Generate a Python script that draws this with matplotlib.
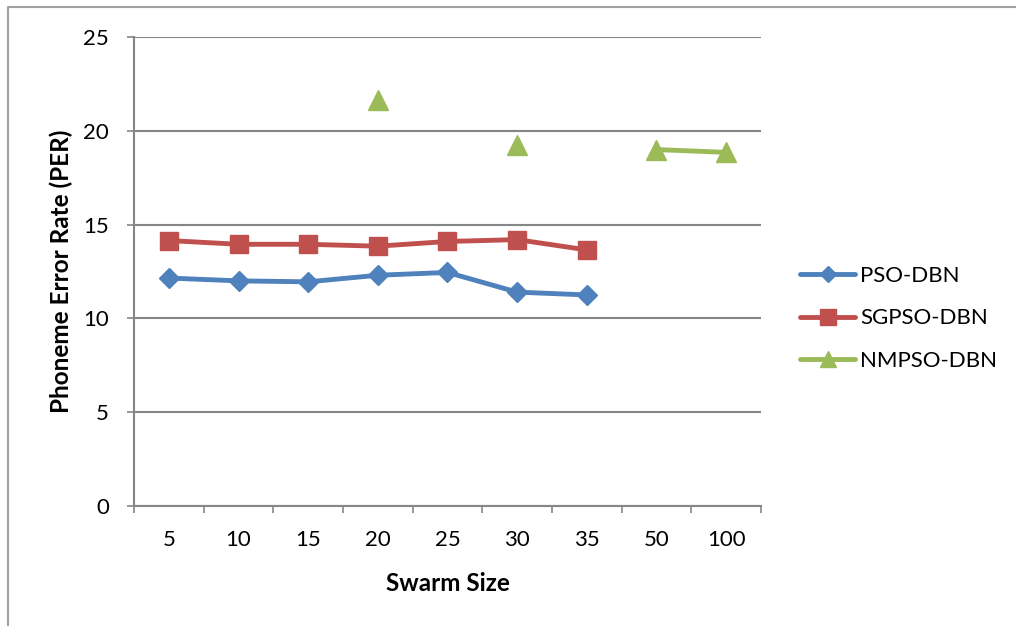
import numpy as np
import matplotlib
matplotlib.use("Agg")
import matplotlib.pyplot as plt
from matplotlib.lines import Line2D

plt.rcParams['font.family'] = ['Lato', 'DejaVu Sans']

swarm_sizes = ["5", "10", "15", "20", "25", "30", "35", "50", "100"]
pso_dbn = [12.15, 12.0, 11.95, 12.3, 12.45, 11.4, 11.25, np.nan, np.nan]
sgpso_dbn = [14.15, 13.95, 13.95, 13.85, 14.1, 14.2, 13.65, np.nan, np.nan]
nmpso_dbn = [np.nan, np.nan, np.nan, 21.65, np.nan, 19.25, np.nan, 19.0, 18.85]

grid_col = "#868686"

fig = plt.figure(figsize=(10.16, 6.26), dpi=100)
ax = fig.add_axes([0.1319, 0.1917, 0.749 - 0.1319, 0.9409 - 0.1917])

x = np.arange(len(swarm_sizes)) + 0.5
ax.plot(x, pso_dbn, color="#4F81BD", lw=3.5, marker="D", ms=10,
        label="PSO-DBN", solid_capstyle="round")
ax.plot(x, sgpso_dbn, color="#C0504D", lw=3.5, marker="s", ms=13,
        label="SGPSO-DBN", solid_capstyle="round")
ax.plot(x, nmpso_dbn, color="#9BBB59", lw=3.5, marker="^", ms=14,
        label="NMPSO-DBN", solid_capstyle="round")

ax.set_xlim(0, len(swarm_sizes))
ax.set_ylim(0, 25)
ax.set_yticks(np.arange(0, 26, 5))
ax.yaxis.grid(True, color=grid_col, lw=1.5)
ax.set_axisbelow(True)

# category boundaries get tick marks, centres get the labels
ax.set_xticks(np.arange(len(swarm_sizes) + 1))
ax.set_xticklabels([])
ax.set_xticks(x, minor=True)
ax.set_xticklabels(swarm_sizes, minor=True)
ax.tick_params(axis="x", which="major", length=5, width=1.2, color=grid_col, direction="out")
ax.tick_params(axis="x", which="minor", length=0, pad=17, labelsize=16)
ax.tick_params(axis="y", length=5, width=1.2, color=grid_col, direction="out",
               pad=13, labelsize=16)

for side in ("top", "right"):
    ax.spines[side].set_visible(False)
for side in ("left", "bottom"):
    ax.spines[side].set_color(grid_col)
    ax.spines[side].set_linewidth(1.5)

ax.set_xlabel("Swarm Size", fontsize=17.5, fontweight="bold", labelpad=16)
ax.set_ylabel("Phoneme Error Rate (PER)", fontsize=17.5, fontweight="bold", labelpad=7)

ax.legend(loc="center left", bbox_to_anchor=(1.062, 0.40), frameon=False,
          fontsize=16, handlelength=2.5, labelspacing=1.0, markerscale=0.85,
          handletextpad=0.22, borderpad=0, borderaxespad=0)

# outer chart frame (left and top edges)
fig.add_artist(Line2D([0.008, 0.008, 1.0], [0.0, 0.989, 0.989],
                      transform=fig.transFigure, color="#A0A0A0", lw=1.5))

fig.savefig("out.png", dpi=100)
